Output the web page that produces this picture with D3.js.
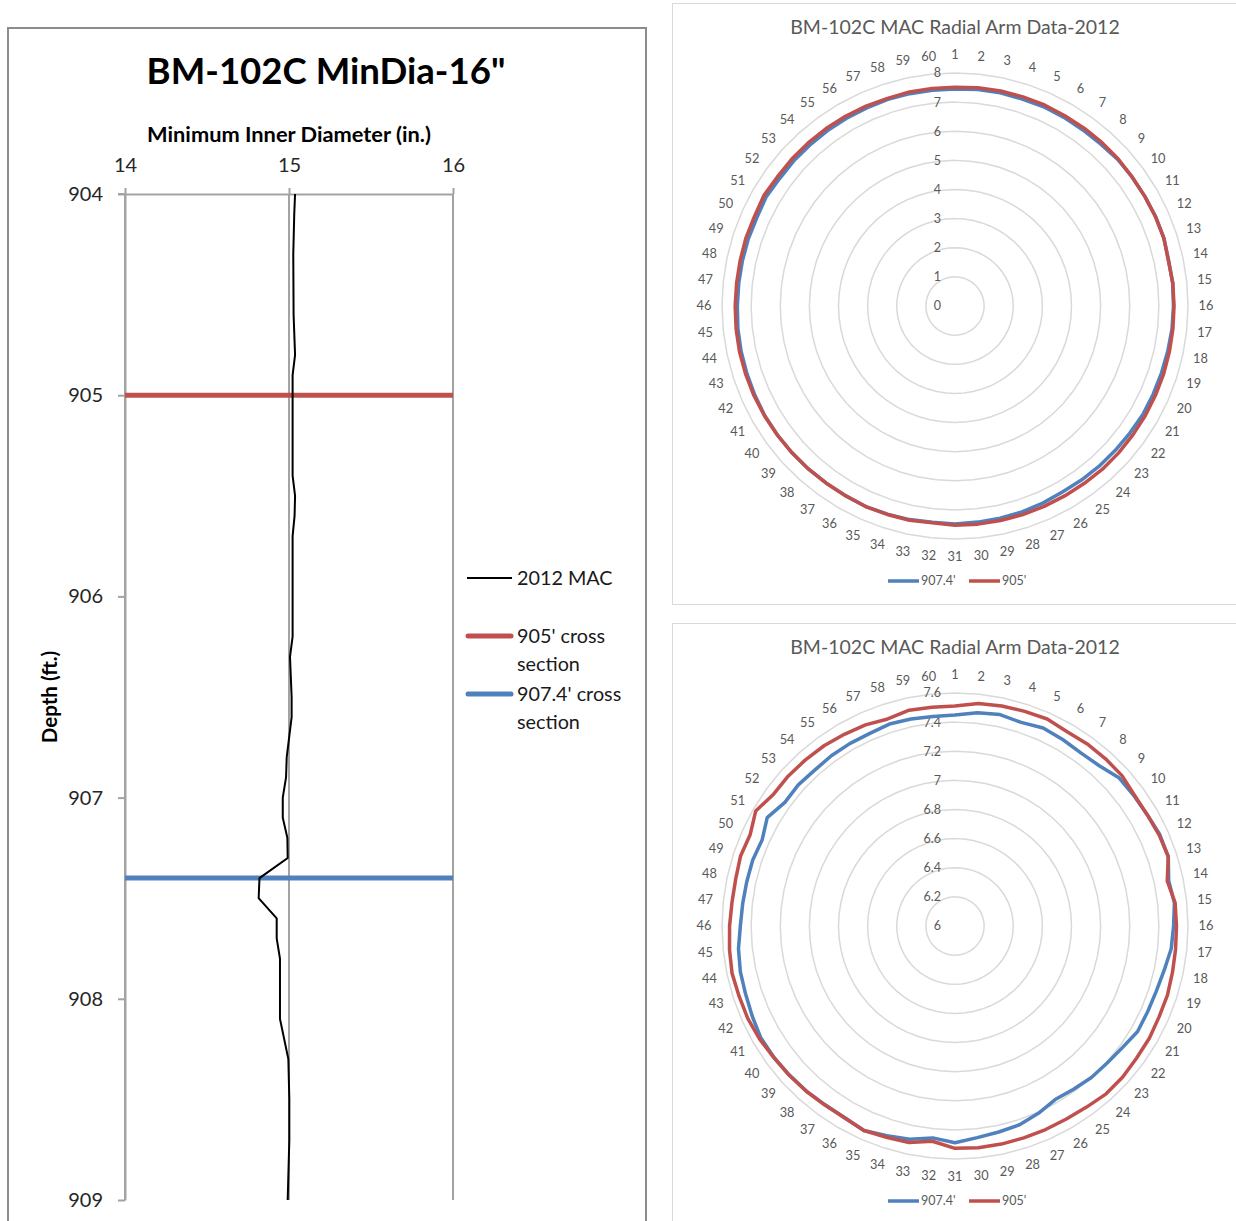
<!DOCTYPE html>
<html><head><meta charset="utf-8">
<script src="https://cdn.jsdelivr.net/npm/d3@7"></script>
<style>body{margin:0;background:#fff} svg{display:block}</style>
</head><body>
<svg id="c" width="1236" height="1221"></svg>
<script>
// ---------- data ----------
const depthTicks = [904, 905, 906, 907, 908, 909];
const diamTicks = [14, 15, 16];
const macDepth = [904.0, 904.1, 904.3, 904.6, 904.8, 904.9, 905.4, 905.5, 905.6, 905.7, 906.2, 906.3, 906.5, 906.6, 906.8, 906.9, 907.0, 907.1, 907.2, 907.3, 907.4, 907.5, 907.6, 907.7, 907.8, 908.1, 908.3, 908.5, 908.7, 909.0];
const macDiam = [15.037, 15.032, 15.026, 15.028, 15.037, 15.022, 15.022, 15.037, 15.034, 15.022, 15.022, 15.006, 15.016, 15.016, 14.986, 14.982, 14.962, 14.962, 14.990, 14.992, 14.82, 14.815, 14.925, 14.925, 14.945, 14.945, 14.996, 15.002, 15.002, 14.992];
const crossDepths = [905, 907.4];
const crossNames = ["905' cross section", "907.4' cross section"];
const macName = "2012 MAC";

const categories = ["1","2","3","4","5","6","7","8","9","10","11","12","13","14","15","16","17","18","19","20","21","22","23","24","25","26","27","28","29","30","31","32","33","34","35","36","37","38","39","40","41","42","43","44","45","46","47","48","49","50","51","52","53","54","55","56","57","58","59","60"];
const series905 = [7.511,7.537,7.545,7.550,7.556,7.540,7.545,7.545,7.543,7.525,7.525,7.535,7.540,7.490,7.520,7.521,7.523,7.527,7.534,7.534,7.541,7.542,7.550,7.551,7.537,7.530,7.530,7.530,7.531,7.531,7.527,7.486,7.520,7.525,7.537,7.520,7.520,7.527,7.532,7.538,7.550,7.558,7.559,7.565,7.557,7.548,7.540,7.540,7.549,7.540,7.580,7.540,7.540,7.535,7.530,7.520,7.512,7.495,7.515,7.511];
const series907 = [7.449,7.473,7.484,7.470,7.488,7.479,7.470,7.481,7.518,7.520,7.526,7.540,7.540,7.500,7.515,7.501,7.493,7.468,7.453,7.448,7.448,7.421,7.406,7.400,7.385,7.376,7.408,7.435,7.446,7.461,7.488,7.463,7.497,7.514,7.537,7.518,7.518,7.525,7.530,7.536,7.539,7.524,7.512,7.507,7.495,7.474,7.466,7.462,7.461,7.450,7.489,7.444,7.448,7.440,7.445,7.446,7.446,7.458,7.453,7.446];
const seriesNames = ["907.4'", "905'"];
const topRingTicks = [0, 1, 2, 3, 4, 5, 6, 7, 8];
const bottomRingTicks = [6, 6.2, 6.4, 6.6, 6.8, 7, 7.2, 7.4, 7.6];
const radarTitle = "BM-102C MAC Radial Arm Data-2012";
const leftTitle = "BM-102C MinDia-16\"";
const xTitle = "Minimum Inner Diameter (in.)";
const yTitle = "Depth (ft.)";

// ---------- styles ----------
const FONT = "Lato, 'Open Sans', sans-serif";
const RED = "#C0504D", BLUE = "#4F81BD";
const svg = d3.select("#c");

// ---------- left chart ----------
svg.append("rect").attr("x", 8).attr("y", 28).attr("width", 638).attr("height", 1220)
  .attr("fill", "#fff").attr("stroke", "#8c8c8c").attr("stroke-width", 2);

const x = d3.scaleLinear().domain([14, 16]).range([125, 453]);
const y = d3.scaleLinear().domain([904, 909]).range([194, 1200]);
const L = svg.append("g");

// vertical gridlines
L.selectAll("line.vg").data(diamTicks).join("line")
  .attr("x1", d => x(d)).attr("x2", d => x(d)).attr("y1", y(904)).attr("y2", y(909))
  .attr("stroke", "#a3a3a3").attr("stroke-width", 2);

const ay = L.append("g").attr("transform", `translate(${x(14)},0)`)
  .call(d3.axisLeft(y).tickValues(depthTicks).tickSize(7).tickSizeOuter(0).tickPadding(15).tickFormat(d3.format("d")));
ay.select(".domain").attr("stroke", "#a3a3a3").attr("stroke-width", 2);
ay.selectAll(".tick line").attr("stroke", "#a3a3a3").attr("stroke-width", 2);
ay.selectAll(".tick text").attr("font-family", FONT).attr("font-size", 20).attr("fill", "#262626");

const ax = L.append("g").attr("transform", `translate(0,${y(904)})`)
  .call(d3.axisTop(x).tickValues(diamTicks).tickSize(6).tickSizeOuter(0).tickPadding(16).tickFormat(d3.format("d")));
ax.select(".domain").attr("stroke", "#a3a3a3").attr("stroke-width", 2);
ax.selectAll(".tick line").attr("stroke", "#a3a3a3").attr("stroke-width", 2);
ax.selectAll(".tick text").attr("font-family", FONT).attr("font-size", 20).attr("fill", "#262626");
L.append("line").attr("x1", 118).attr("x2", x(14)).attr("y1", y(904)).attr("y2", y(904))
  .attr("stroke", "#a3a3a3").attr("stroke-width", 2);

// cross-section lines
const crossColors = [RED, BLUE];
L.selectAll("line.cs").data(crossDepths).join("line")
  .attr("x1", x(14)).attr("x2", x(16)).attr("y1", d => y(d)).attr("y2", d => y(d))
  .attr("stroke", (d, i) => crossColors[i]).attr("stroke-width", 5);

// MAC line
const macData = macDepth.map((d, i) => [d, macDiam[i]]);
L.append("path").datum(macData)
  .attr("d", d3.line().x(d => x(d[1])).y(d => y(d[0])))
  .attr("fill", "none").attr("stroke", "#000").attr("stroke-width", 2);

// titles
L.append("text").attr("x", 326).attr("y", 84).attr("text-anchor", "middle")
  .attr("font-family", FONT).attr("font-weight", "bold").attr("font-size", 36.6).attr("fill", "#000").text(leftTitle);
L.append("text").attr("x", 289).attr("y", 142).attr("text-anchor", "middle")
  .attr("font-family", FONT).attr("font-weight", "bold").attr("font-size", 21.8).attr("fill", "#000").text(xTitle);
L.append("text").attr("transform", "translate(57,697) rotate(-90)").attr("text-anchor", "middle")
  .attr("font-family", FONT).attr("font-weight", "bold").attr("font-size", 20.5).attr("fill", "#000").text(yTitle);

// legend
const lg = L.append("g").attr("font-family", FONT).attr("font-size", 19.8).attr("fill", "#1a1a1a");
lg.append("line").attr("x1", 467).attr("x2", 512).attr("y1", 578).attr("y2", 578).attr("stroke", "#000").attr("stroke-width", 2);
lg.append("text").attr("x", 517).attr("y", 585).text(macName);
const legY = [636, 694];
crossNames.forEach((n, i) => {
  lg.append("line").attr("x1", 468).attr("x2", 511).attr("y1", legY[i]).attr("y2", legY[i])
    .attr("stroke", crossColors[i]).attr("stroke-width", 5).attr("stroke-linecap", "round");
  const parts = n.split(" ");
  lg.append("text").attr("x", 517).attr("y", legY[i] + 7).text(parts.slice(0, 2).join(" "));
  lg.append("text").attr("x", 517).attr("y", legY[i] + 35).text(parts.slice(2).join(" "));
});

// ---------- radar charts ----------
function radar(top, cy, ticks) {
  const cx = 955, R = 233;
  const g = svg.append("g");
  g.append("rect").attr("x", 672.5).attr("y", top + 0.5).attr("width", 620).attr("height", top === 3 ? 601 : 640)
    .attr("fill", "#fff").attr("stroke", "#d9d9d9").attr("stroke-width", 1);
  g.append("text").attr("x", cx).attr("y", top + 31).attr("text-anchor", "middle")
    .attr("font-family", FONT).attr("font-size", 19.5).attr("fill", "#595959").text(radarTitle);

  const r = d3.scaleLinear().domain([ticks[0], ticks[ticks.length - 1]]).range([0, R]);
  const ang = d3.scaleLinear().domain([0, categories.length]).range([0, 2 * Math.PI]);
  const c = g.append("g").attr("transform", `translate(${cx},${cy})`);

  // rings
  ticks.slice(1).forEach(t => {
    c.append("path").datum(categories)
      .attr("d", d3.lineRadial().angle((d, i) => ang(i)).radius(r(t)).curve(d3.curveLinearClosed))
      .attr("fill", "none").attr("stroke", "#d9d9d9").attr("stroke-width", 1.5);
  });
  // value labels
  c.selectAll("text.v").data(ticks).join("text")
    .attr("x", -14).attr("y", d => -r(d)).attr("dy", "0.35em").attr("text-anchor", "end")
    .attr("font-family", FONT).attr("font-size", 12.5).attr("fill", "#595959")
    .text(d => d3.format("~g")(d));
  // category labels
  c.selectAll("text.cat").data(categories).join("text")
    .attr("x", (d, i) => 251 * Math.sin(ang(i)))
    .attr("y", (d, i) => -251 * Math.cos(ang(i)))
    .attr("dy", "0.35em").attr("text-anchor", "middle")
    .attr("font-family", FONT).attr("font-size", 12.8).attr("fill", "#595959").text(d => d);
  // series
  const sers = [series907, series905], cols = [BLUE, RED];
  sers.forEach((s, k) => {
    c.append("path").datum(s)
      .attr("d", d3.lineRadial().angle((d, i) => ang(i)).radius(d => r(d)).curve(d3.curveLinearClosed))
      .attr("fill", "none").attr("stroke", cols[k]).attr("stroke-width", 3.5).attr("stroke-linejoin", "round");
  });
  // legend
  const ly = cy + 275;
  const lx = [888, 969];
  seriesNames.forEach((n, k) => {
    g.append("line").attr("x1", lx[k]).attr("x2", lx[k] + 31).attr("y1", ly).attr("y2", ly)
      .attr("stroke", cols[k]).attr("stroke-width", 3.5);
    g.append("text").attr("x", lx[k] + 33).attr("y", ly).attr("dy", "0.35em")
      .attr("font-family", FONT).attr("font-size", 12.5).attr("fill", "#595959").text(n);
  });
}
radar(3, 306, topRingTicks);
radar(623, 926, bottomRingTicks);
</script>
</body></html>
